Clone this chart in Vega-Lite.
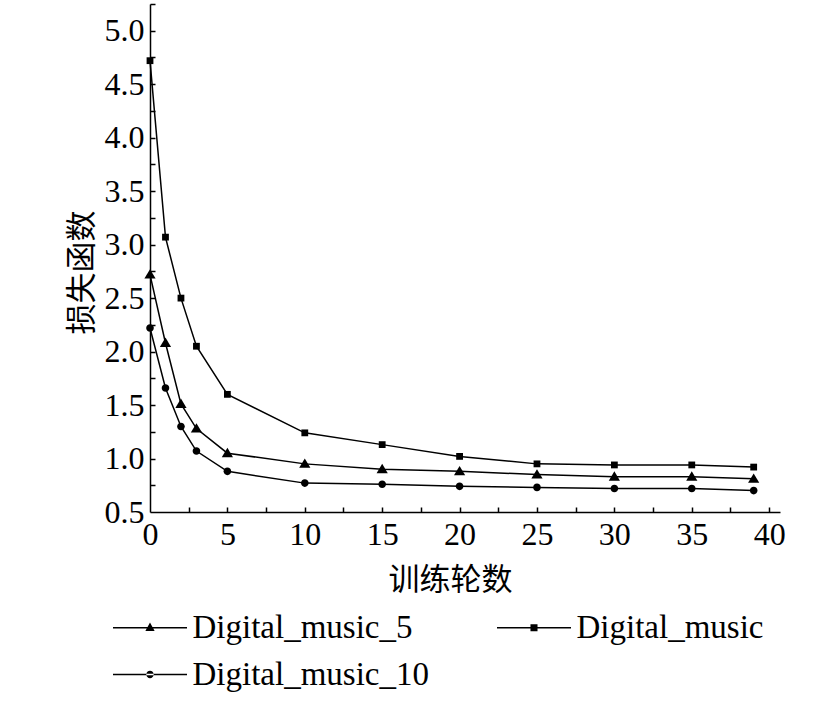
{
  "$schema": "https://vega.github.io/schema/vega-lite/v6.json",
  "width": 630,
  "height": 508,
  "autosize": "none",
  "padding": {"left": 150, "top": 4, "right": 41, "bottom": 193},
  "background": "white",
  "config": {
    "view": {"stroke": null},
    "axis": {"grid": false, "labelFont": "Liberation Serif", "titleFont": "Noto Sans CJK SC", "labelColor": "black", "titleColor": "black", "domainColor": "black", "tickColor": "black"}
  },
  "data": {
    "values": [
      {"epoch": 0, "loss": 4.72, "series": "Digital_music"},
      {"epoch": 1, "loss": 3.07, "series": "Digital_music"},
      {"epoch": 2, "loss": 2.50, "series": "Digital_music"},
      {"epoch": 3, "loss": 2.05, "series": "Digital_music"},
      {"epoch": 5, "loss": 1.60, "series": "Digital_music"},
      {"epoch": 10, "loss": 1.24, "series": "Digital_music"},
      {"epoch": 15, "loss": 1.13, "series": "Digital_music"},
      {"epoch": 20, "loss": 1.02, "series": "Digital_music"},
      {"epoch": 25, "loss": 0.95, "series": "Digital_music"},
      {"epoch": 30, "loss": 0.94, "series": "Digital_music"},
      {"epoch": 35, "loss": 0.94, "series": "Digital_music"},
      {"epoch": 39, "loss": 0.92, "series": "Digital_music"},
      {"epoch": 0, "loss": 2.72, "series": "Digital_music_5"},
      {"epoch": 1, "loss": 2.08, "series": "Digital_music_5"},
      {"epoch": 2, "loss": 1.51, "series": "Digital_music_5"},
      {"epoch": 3, "loss": 1.28, "series": "Digital_music_5"},
      {"epoch": 5, "loss": 1.05, "series": "Digital_music_5"},
      {"epoch": 10, "loss": 0.95, "series": "Digital_music_5"},
      {"epoch": 15, "loss": 0.90, "series": "Digital_music_5"},
      {"epoch": 20, "loss": 0.88, "series": "Digital_music_5"},
      {"epoch": 25, "loss": 0.85, "series": "Digital_music_5"},
      {"epoch": 30, "loss": 0.83, "series": "Digital_music_5"},
      {"epoch": 35, "loss": 0.83, "series": "Digital_music_5"},
      {"epoch": 39, "loss": 0.81, "series": "Digital_music_5"},
      {"epoch": 0, "loss": 2.22, "series": "Digital_music_10"},
      {"epoch": 1, "loss": 1.66, "series": "Digital_music_10"},
      {"epoch": 2, "loss": 1.30, "series": "Digital_music_10"},
      {"epoch": 3, "loss": 1.07, "series": "Digital_music_10"},
      {"epoch": 5, "loss": 0.88, "series": "Digital_music_10"},
      {"epoch": 10, "loss": 0.77, "series": "Digital_music_10"},
      {"epoch": 15, "loss": 0.76, "series": "Digital_music_10"},
      {"epoch": 20, "loss": 0.74, "series": "Digital_music_10"},
      {"epoch": 25, "loss": 0.73, "series": "Digital_music_10"},
      {"epoch": 30, "loss": 0.72, "series": "Digital_music_10"},
      {"epoch": 35, "loss": 0.72, "series": "Digital_music_10"},
      {"epoch": 39, "loss": 0.70, "series": "Digital_music_10"}
    ]
  },
  "layer": [
    {
      "mark": {"type": "line", "color": "black", "strokeWidth": 1.5},
      "encoding": {
        "x": {
          "field": "epoch", "type": "quantitative",
          "scale": {"domain": [0, 40.7], "nice": false, "zero": false},
          "axis": {
            "orient": "bottom", "values": [0, 5, 10, 15, 20, 25, 30, 35, 40], "ticks": false,
            "domainWidth": 1.5, "labelFontSize": 32, "labelPadding": 7, "labelFlush": false,
            "title": "训练轮数", "titleFontSize": 31, "titleFontWeight": "normal",
            "titleX": 300, "titleY": 68, "titleBaseline": "middle"
          }
        },
        "y": {
          "field": "loss", "type": "quantitative",
          "scale": {"domain": [0.5, 5.25], "nice": false, "zero": false},
          "axis": {
            "orient": "left", "values": [0.5, 1, 1.5, 2, 2.5, 3, 3.5, 4, 4.5, 5], "format": ".1f", "ticks": false,
            "domainWidth": 1.5, "labelFontSize": 32, "labelPadding": 6, "labelFlush": false,
            "title": "损失函数", "titleFontSize": 31, "titleFontWeight": "normal",
            "titleX": -68, "titleY": 268, "titleBaseline": "middle", "titleAngle": 270
          }
        },
        "detail": {"field": "series"}
      }
    },
    {
      "mark": {"type": "point", "filled": true, "opacity": 1, "color": "black", "size": 64},
      "encoding": {
        "x": {
          "field": "epoch", "type": "quantitative",
          "axis": {
            "orient": "bottom", "values": [2.5, 5, 7.5, 10, 12.5, 15, 17.5, 20, 22.5, 25, 27.5, 30, 32.5, 35, 37.5, 40],
            "labels": false, "domain": false, "tickSize": -5, "tickWidth": 1.5, "title": null
          }
        },
        "y": {
          "field": "loss", "type": "quantitative",
          "axis": {
            "orient": "left", "values": [0.75, 1, 1.25, 1.5, 1.75, 2, 2.25, 2.5, 2.75, 3, 3.25, 3.5, 3.75, 4, 4.25, 4.5, 4.75, 5, 5.25],
            "labels": false, "domain": false, "tickSize": -5, "tickWidth": 1.5, "title": null
          }
        },
        "shape": {
          "field": "series", "type": "nominal",
          "scale": {
            "domain": ["Digital_music_5", "Digital_music", "Digital_music_10"],
            "range": ["M0,-1.35L1.4,1L-1.4,1Z", "M-0.85,-0.85H0.85V0.85H-0.85Z", "M-0.95,0A0.95,0.95 0 1,0 0.95,0A0.95,0.95 0 1,0 -0.95,0Z"]
          },
          "legend": null
        }
      }
    },
    {
      "transform": [{"filter": "datum.epoch < 0"}],
      "mark": {"type": "point", "filled": true, "opacity": 1, "fill": "black"},
      "encoding": {
        "x": {"field": "epoch", "type": "quantitative", "axis": null},
        "y": {"field": "loss", "type": "quantitative", "axis": null},
        "shape": {
          "field": "series", "type": "nominal",
          "scale": {
            "domain": ["Digital_music_5", "Digital_music", "Digital_music_10"],
            "range": [
              "M-2,-0.04H2V0.04H-2ZM0,-0.28L0.25,0.18L-0.25,0.18Z",
              "M-2,-0.04H2V0.04H-2ZM-0.19,-0.19H0.19V0.19H-0.19Z",
              "M-2,-0.04H2V0.04H-2ZM-0.2,0A0.2,0.2 0 1,0 0.2,0A0.2,0.2 0 1,0 -0.2,0Z"
            ]
          },
          "legend": {
            "title": null, "orient": "none", "direction": "horizontal", "legendX": -37, "legendY": 605, "columns": 2, "columnPadding": 68, "rowPadding": 11,
            "symbolSize": 1369, "symbolOffset": 18.5, "symbolStrokeWidth": 0, "symbolFillColor": "black", "symbolOpacity": 1,
            "labelFont": "Liberation Serif", "labelFontSize": 33, "labelColor": "black", "labelOffset": 24, "labelLimit": 500
          }
        }
      }
    }
  ],
  "resolve": {"axis": {"x": "independent", "y": "independent"}, "scale": {"shape": "independent"}, "legend": {"shape": "independent"}}
}
